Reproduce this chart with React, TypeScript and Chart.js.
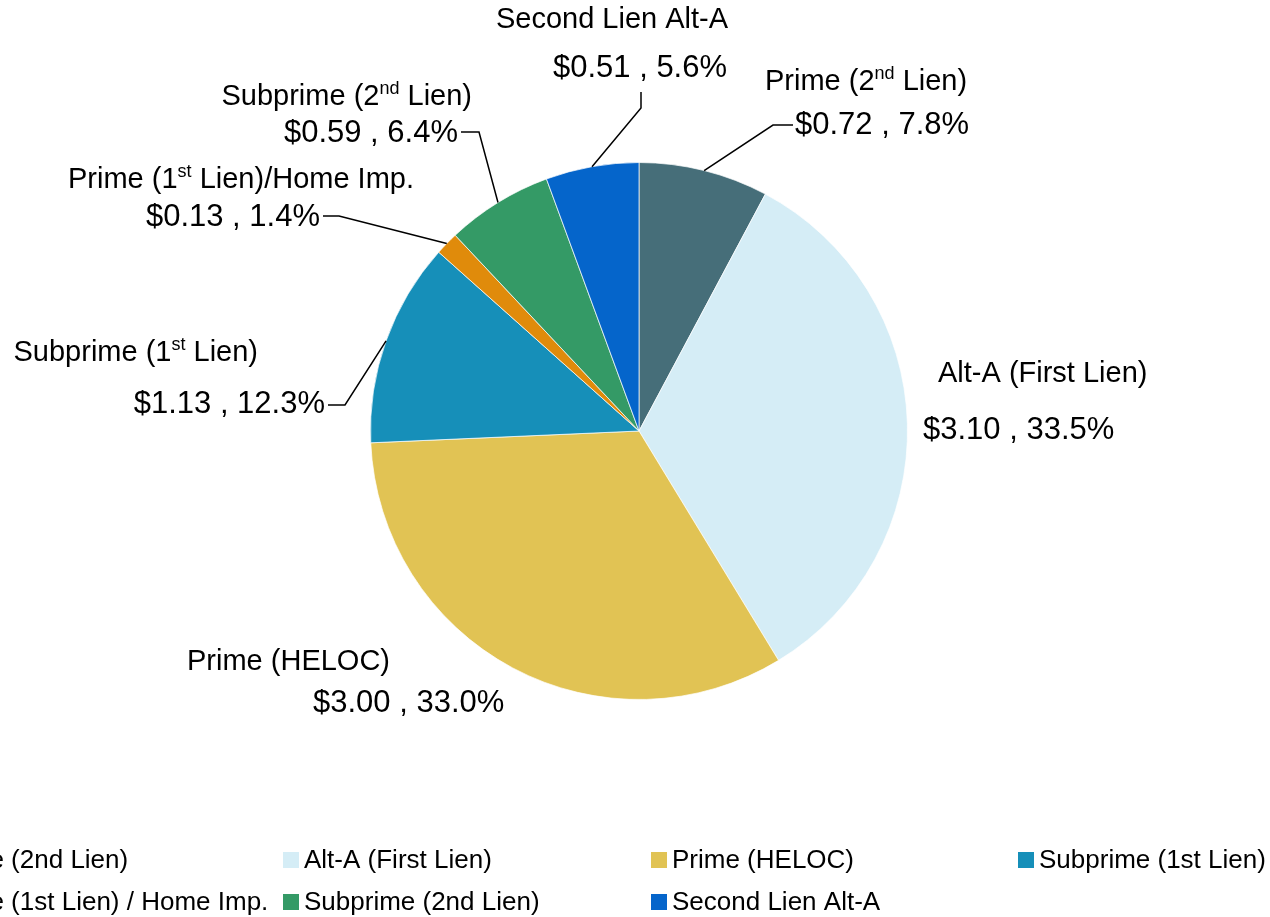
import React, { useEffect, useRef } from "react";
import { Chart, registerables } from "chart.js";
Chart.register(...registerables);

const categories = [
  "Prime (2nd Lien)",
  "Alt-A (First Lien)",
  "Prime (HELOC)",
  "Subprime (1st Lien)",
  "Prime (1st Lien) / Home Imp.",
  "Subprime (2nd Lien)",
  "Second Lien Alt-A",
];
// "^" toggles superscript
const calloutNames = [
  "Prime (2^nd^ Lien)",
  "Alt-A (First Lien)",
  "Prime (HELOC)",
  "Subprime (1^st^ Lien)",
  "Prime (1^st^ Lien)/Home Imp.",
  "Subprime (2^nd^ Lien)",
  "Second Lien Alt-A",
];
const dollarValues = [0.72, 3.1, 3.0, 1.13, 0.13, 0.59, 0.51];
const percentValues = [7.8, 33.5, 33.0, 12.3, 1.4, 6.4, 5.6];
const sliceColors = ["#466e79", "#d5edf6", "#e1c354", "#168fb9", "#e08b0b", "#349a66", "#0565cb"];

type Pt = [number, number];
interface LabelStyle {
  nx: number; ny: number; na: "left" | "right" | "center";
  vx: number; vy: number; va: "left" | "right" | "center";
  leader: Pt[] | null;
}
const labelStyles: LabelStyle[] = [
  { nx: 765, ny: 82, na: "left", vx: 795, vy: 125, va: "left", leader: [[793, 125], [773, 125]] },
  { nx: 938, ny: 374, na: "left", vx: 923, vy: 430, va: "left", leader: null },
  { nx: 187, ny: 662, na: "left", vx: 313, vy: 703, va: "left", leader: null },
  { nx: 258, ny: 353, na: "right", vx: 325, vy: 404, va: "right", leader: [[328, 405], [345, 405]] },
  { nx: 414, ny: 180, na: "right", vx: 320, vy: 217, va: "right", leader: [[323, 216], [339, 216]] },
  { nx: 472, ny: 97, na: "right", vx: 458, vy: 133, va: "right", leader: [[461, 132], [479, 132]] },
  { nx: 612, ny: 20, na: "center", vx: 640, vy: 68, va: "center", leader: [[641, 92], [641, 108]] },
];

const FONT = '"Liberation Sans", Arial, sans-serif';
const NAME_SIZE = 29;
const VALUE_SIZE = 31;
const SUP_SIZE = 18;
const LEGEND_SIZE = 26;

function drawRich(ctx: CanvasRenderingContext2D, text: string, x: number, y: number, align: string) {
  const parts = text.split("^").map((t, i) => ({ t, sup: i % 2 === 1 }));
  let total = 0;
  const widths = parts.map((p) => {
    ctx.font = `${p.sup ? SUP_SIZE : NAME_SIZE}px ${FONT}`;
    const w = ctx.measureText(p.t).width;
    total += w;
    return w;
  });
  let cx = align === "left" ? x : align === "right" ? x - total : x - total / 2;
  ctx.textAlign = "left";
  ctx.textBaseline = "middle";
  parts.forEach((p, i) => {
    ctx.font = `${p.sup ? SUP_SIZE : NAME_SIZE}px ${FONT}`;
    ctx.fillText(p.t, cx, p.sup ? y - 8 : y);
    cx += widths[i];
  });
}

const calloutPlugin = {
  id: "callouts",
  afterDraw(chart: any) {
    const ctx: CanvasRenderingContext2D = chart.ctx;
    const meta = chart.getDatasetMeta(0);
    ctx.save();
    ctx.fillStyle = "#000";
    ctx.strokeStyle = "#000";
    ctx.lineWidth = 1.5;
    meta.data.forEach((arc: any, i: number) => {
      const st = labelStyles[i];
      const { x, y, startAngle, endAngle, outerRadius } = arc.getProps(
        ["x", "y", "startAngle", "endAngle", "outerRadius"], true);
      const mid = (startAngle + endAngle) / 2;
      const ex = x + Math.cos(mid) * outerRadius;
      const ey = y + Math.sin(mid) * outerRadius;
      if (st.leader) {
        ctx.beginPath();
        ctx.moveTo(st.leader[0][0], st.leader[0][1]);
        for (let k = 1; k < st.leader.length; k++) ctx.lineTo(st.leader[k][0], st.leader[k][1]);
        ctx.lineTo(ex, ey);
        ctx.stroke();
      }
      drawRich(ctx, calloutNames[i], st.nx, st.ny, st.na);
      ctx.font = `${VALUE_SIZE}px ${FONT}`;
      ctx.textAlign = st.va;
      ctx.textBaseline = "middle";
      ctx.fillText(`$${dollarValues[i].toFixed(2)} , ${percentValues[i].toFixed(1)}%`, st.vx, st.vy);
    });

    // legend
    const colX = [-85, 283, 651, 1018];
    const rowY = [860, 902];
    ctx.font = `${LEGEND_SIZE}px ${FONT}`;
    ctx.textAlign = "left";
    ctx.textBaseline = "middle";
    categories.forEach((name, i) => {
      const c = i % 4;
      const r = Math.floor(i / 4);
      const sx = colX[c];
      const sy = rowY[r];
      ctx.fillStyle = sliceColors[i];
      ctx.fillRect(sx, sy - 8, 16, 16);
      ctx.fillStyle = "#000";
      ctx.fillText(name, sx + 21, sy + 1);
    });
    ctx.restore();
  },
};

export default function App() {
  const ref = useRef<HTMLCanvasElement | null>(null);
  useEffect(() => {
    if (!ref.current) return;
    const chart = new Chart(ref.current, {
      type: "pie",
      data: {
        labels: categories,
        datasets: [
          {
            data: percentValues,
            backgroundColor: sliceColors,
            borderColor: "rgba(255,255,255,0.7)",
            borderWidth: 1,
          },
        ],
      },
      options: {
        animation: false,
        responsive: false,
        maintainAspectRatio: false,
        layout: { padding: { left: 370, right: 362, top: 162, bottom: 217 } },
        plugins: { legend: { display: false }, tooltip: { enabled: false } },
      },
      plugins: [calloutPlugin],
    });
    return () => chart.destroy();
  }, []);
  return (
    <div style={{ position: "absolute", left: 0, top: 0, width: 1270, height: 917, background: "#fff" }}>
      <canvas ref={ref} width={1270} height={917} style={{ width: 1270, height: 917 }} />
    </div>
  );
}
